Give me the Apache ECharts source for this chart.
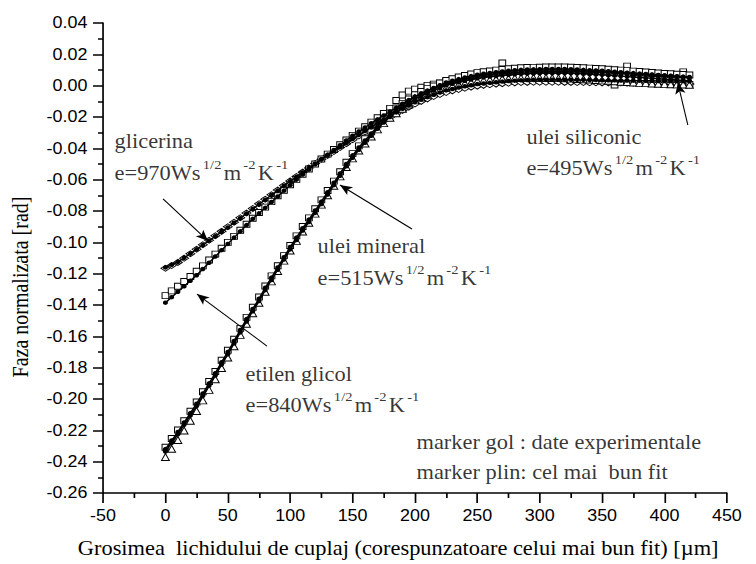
<!DOCTYPE html>
<html><head><meta charset="utf-8">
<script src="https://cdn.jsdelivr.net/npm/echarts@6/dist/echarts.min.js"></script>
<style>
html,body{margin:0;padding:0;background:#fff;overflow:hidden}
#wrap{width:756px;height:564px;overflow:hidden;background:#fff}
#c{width:675px;height:564px;transform:scaleX(1.12);transform-origin:0 0}
</style></head><body><div id="wrap"><div id="c"></div></div>
<script>
// grosimea lichidului [µm]
const thickness = [0,5,10,15,20,25,30,35,40,45,50,55,60,65,70,75,80,85,90,95,100,105,110,115,120,125,130,135,140,145,150,155,160,165,170,175,180,185,190,195,200,205,210,215,220,225,230,235,240,245,250,255,260,265,270,275,280,285,290,295,300,305,310,315,320,325,330,335,340,345,350,355,360,365,370,375,380,385,390,395,400,405,410,415,420];

// glicerina (e=970)
const glicerinaExp = [-0.1165,-0.1148,-0.1128,-0.1101,-0.1073,-0.1044,-0.1015,-0.0987,-0.0958,-0.093,-0.0901,-0.0872,-0.0843,-0.0813,-0.0784,-0.0754,-0.0725,-0.0696,-0.0666,-0.0637,-0.0608,-0.058,-0.0552,-0.0525,-0.0497,-0.047,-0.0445,-0.042,-0.0395,-0.037,-0.0345,-0.0321,-0.0296,-0.0272,-0.0248,-0.0224,-0.0202,-0.0179,-0.0158,-0.0137,-0.0117,-0.01,-0.0084,-0.0069,-0.0056,-0.0043,-0.0033,-0.0024,-0.0016,-0.0009,-0.0003,0.0002,0.0006,0.001,0.0013,0.0016,0.0018,0.002,0.0021,0.0022,0.0022,0.0022,0.0022,0.0022,0.0021,0.0021,0.002,0.002,0.0019,0.0019,0.0018,0.0018,0.0017,0.0017,0.0016,0.0016,0.0015,0.0015,0.0014,0.0014,0.0013,0.0013,0.0012,0.0012,0.0011];
const glicerinaFit = [-0.116,-0.1143,-0.1125,-0.1099,-0.1072,-0.1045,-0.1017,-0.0989,-0.0961,-0.0933,-0.0905,-0.0875,-0.0846,-0.0816,-0.0787,-0.0757,-0.0728,-0.0698,-0.0669,-0.0639,-0.061,-0.0582,-0.0554,-0.0526,-0.0498,-0.047,-0.0444,-0.0418,-0.0392,-0.0366,-0.034,-0.0315,-0.029,-0.0265,-0.024,-0.0215,-0.0192,-0.0169,-0.0147,-0.0126,-0.0105,-0.0089,-0.0073,-0.0058,-0.0044,-0.003,-0.0021,-0.0012,-0.0004,0.0003,0.001,0.0014,0.0018,0.0022,0.0026,0.003,0.0032,0.0034,0.0036,0.0037,0.0038,0.0038,0.0038,0.0038,0.0038,0.0038,0.0037,0.0037,0.0036,0.0036,0.0035,0.0034,0.0034,0.0033,0.0033,0.0032,0.0032,0.0031,0.0031,0.003,0.003,0.003,0.0029,0.0029,0.0028];

// etilen glicol (e=840)
const etilenExp = [-0.134,-0.131,-0.128,-0.125,-0.1218,-0.1185,-0.115,-0.1113,-0.1075,-0.1038,-0.1,-0.0962,-0.0923,-0.0885,-0.0846,-0.081,-0.0775,-0.074,-0.0703,-0.0668,-0.0632,-0.0598,-0.0565,-0.0532,-0.05,-0.0468,-0.0437,-0.0407,-0.0377,-0.0347,-0.0317,-0.029,-0.0262,-0.0233,-0.0205,-0.0178,-0.0145,-0.0095,-0.006,-0.0035,-0.0022,-0.001,0.0002,0.001,0.0018,0.0028,0.0036,0.0044,0.0052,0.006,0.0066,0.0071,0.0076,0.008,0.0145,0.0086,0.009,0.0093,0.0096,0.0098,0.0099,0.01,0.01,0.01,0.0099,0.0099,0.0098,0.0097,0.0096,0.0094,0.0093,0.0091,0.0004,0.0088,0.0125,0.0084,0.0082,0.008,0.0078,0.0076,0.0073,0.007,0.0067,0.0088,0.0008];
const etilenFit = [-0.1385,-0.135,-0.1315,-0.128,-0.1245,-0.121,-0.117,-0.113,-0.109,-0.105,-0.101,-0.097,-0.093,-0.089,-0.085,-0.0815,-0.078,-0.0743,-0.0707,-0.067,-0.0635,-0.06,-0.0567,-0.0535,-0.0502,-0.047,-0.044,-0.041,-0.038,-0.035,-0.032,-0.0293,-0.0267,-0.024,-0.0215,-0.019,-0.0165,-0.014,-0.0115,-0.0092,-0.007,-0.005,-0.0033,-0.0017,-0.0003,0.001,0.0021,0.0032,0.0042,0.0051,0.006,0.0065,0.007,0.0074,0.0077,0.008,0.0083,0.0086,0.0088,0.0089,0.009,0.009,0.009,0.009,0.009,0.009,0.0089,0.0088,0.0087,0.0086,0.0085,0.0083,0.0081,0.0079,0.0077,0.0075,0.0073,0.0071,0.0069,0.0067,0.0065,0.0061,0.0057,0.0054,0.005];

// ulei mineral (e=515)
const mineralExp = [-0.2308,-0.2252,-0.2198,-0.2139,-0.2078,-0.2019,-0.1954,-0.1888,-0.1824,-0.1753,-0.1689,-0.1619,-0.1549,-0.1479,-0.1414,-0.1349,-0.1279,-0.1214,-0.1149,-0.1085,-0.102,-0.0959,-0.0899,-0.0844,-0.0786,-0.0729,-0.0669,-0.0609,-0.0549,-0.0489,-0.0434,-0.0384,-0.0339,-0.0294,-0.0249,-0.0209,-0.0174,-0.0143,-0.0113,-0.0085,-0.0058,-0.0037,-0.0019,-0.0002,0.0016,0.0033,0.0044,0.0055,0.0065,0.0074,0.0083,0.0089,0.0094,0.0099,0.0103,0.0108,0.0111,0.0114,0.0116,0.0117,0.0118,0.0119,0.0119,0.0119,0.0119,0.0118,0.0116,0.0114,0.0112,0.011,0.0108,0.0105,0.0102,0.0099,0.0096,0.0093,0.009,0.0087,0.0084,0.0081,0.0078,0.0076,0.0073,0.0071,0.0068];
const mineralFit = [-0.232,-0.2265,-0.221,-0.215,-0.209,-0.203,-0.1965,-0.19,-0.1835,-0.1765,-0.17,-0.163,-0.156,-0.149,-0.1425,-0.136,-0.129,-0.1225,-0.116,-0.1095,-0.103,-0.097,-0.091,-0.0855,-0.0797,-0.074,-0.068,-0.062,-0.056,-0.05,-0.0445,-0.0395,-0.035,-0.0305,-0.026,-0.022,-0.0185,-0.0155,-0.0125,-0.0097,-0.007,-0.005,-0.0032,-0.0015,0.0003,0.002,0.0031,0.0042,0.0052,0.0061,0.007,0.0076,0.0081,0.0086,0.009,0.0095,0.0098,0.0101,0.0103,0.0104,0.0105,0.0106,0.0106,0.0106,0.0106,0.0105,0.0103,0.0101,0.0099,0.0097,0.0095,0.0092,0.0089,0.0086,0.0083,0.008,0.0077,0.0074,0.0071,0.0068,0.0065,0.0063,0.006,0.0058,0.0055];

// ulei siliconic (e=495)
const siliconicExp = [-0.237,-0.2318,-0.2262,-0.2201,-0.2139,-0.2077,-0.2009,-0.1942,-0.1874,-0.1802,-0.1735,-0.1663,-0.1591,-0.152,-0.1453,-0.1386,-0.1315,-0.1249,-0.1183,-0.1117,-0.1052,-0.0991,-0.0931,-0.0875,-0.0817,-0.0759,-0.0699,-0.0639,-0.0579,-0.0519,-0.0464,-0.0414,-0.0369,-0.0324,-0.0279,-0.0239,-0.0205,-0.0176,-0.0147,-0.012,-0.0094,-0.0076,-0.0059,-0.0043,-0.0027,-0.0012,-0.0002,0.0007,0.0015,0.0022,0.0029,0.0034,0.0038,0.0041,0.0044,0.0046,0.0048,0.0049,0.005,0.005,0.005,0.005,0.0049,0.0048,0.0047,0.0045,0.0043,0.0041,0.0039,0.0036,0.0034,0.0031,0.0028,0.0025,0.0023,0.002,0.0018,0.0016,0.0014,0.0012,0.001,0.0009,0.0008,0.0007,0.0006];
const siliconicFit = [-0.2335,-0.228,-0.2225,-0.2165,-0.2105,-0.2045,-0.198,-0.1915,-0.185,-0.178,-0.1715,-0.1645,-0.1575,-0.1505,-0.144,-0.1375,-0.1305,-0.124,-0.1175,-0.111,-0.1045,-0.0985,-0.0925,-0.087,-0.0812,-0.0755,-0.0695,-0.0635,-0.0575,-0.0515,-0.046,-0.041,-0.0365,-0.032,-0.0275,-0.0235,-0.02,-0.017,-0.014,-0.0112,-0.0085,-0.0066,-0.0048,-0.0031,-0.0014,0.0002,0.0012,0.0022,0.0031,0.0039,0.0047,0.0053,0.0058,0.0062,0.0066,0.007,0.0073,0.0075,0.0077,0.0078,0.0079,0.008,0.008,0.008,0.008,0.0079,0.0077,0.0075,0.0073,0.0071,0.0069,0.0066,0.0064,0.0061,0.0058,0.0055,0.0052,0.005,0.0047,0.0044,0.0041,0.0039,0.0036,0.0034,0.0031];

// axis settings
const xMin = -50, xMax = 450, xStep = 50;
const yMin = -0.26, yMax = 0.04, yStep = 0.02;

// annotation texts (anchored at data coordinates)
const notes = [
  {x: -41.2, y: -0.0353, text: 'glicerina'},
  {x: -41.2, y: -0.0557, text: 'e=970Ws{s|1/2}m{s|-2}K{s|-1}'},
  {x: 288.9, y: -0.0328, text: 'ulei siliconic'},
  {x: 288.9, y: -0.0526, text: 'e=495Ws{s|1/2}m{s|-2}K{s|-1}'},
  {x: 121.5, y: -0.1023, text: 'ulei mineral'},
  {x: 121.5, y: -0.1228, text: 'e=515Ws{s|1/2}m{s|-2}K{s|-1}'},
  {x: 63.8, y: -0.1840, text: 'etilen glicol'},
  {x: 63.8, y: -0.2038, text: 'e=840Ws{s|1/2}m{s|-2}K{s|-1}'},
  {x: 200.8, y: -0.2275, text: 'marker gol : date experimentale'},
  {x: 200.8, y: -0.2468, text: 'marker plin: cel mai  bun fit'}
];
const arrows = [
  [[-1.9, -0.0723], [34.1, -0.0991]],
  [[81.4, -0.1662], [25.3, -0.1330]],
  [[197.6, -0.0915], [139.9, -0.0634]],
  [[418.7, -0.0251], [410.7, 0.0017]]
];

const pts = ys => thickness.map((x, i) => [x, ys[i]]);
const serif = 'Liberation Serif';
const sans = 'Liberation Sans';

function expSeries(name, ys, symbol, size) {
  return {
    name, type: 'scatter', data: pts(ys), symbol, symbolSize: size,
    itemStyle: {color: '#ffffff', borderColor: '#000000', borderWidth: 0.9, opacity: 1},
    silent: true, z: 2
  };
}
function fitSeries(name, ys) {
  return {
    name, type: 'line', data: pts(ys), symbol: 'circle', symbolSize: 4.5, showSymbol: true,
    showAllSymbol: true, smooth: false,
    lineStyle: {color: '#000000', width: 1.4},
    itemStyle: {color: '#000000', borderWidth: 0, opacity: 1},
    silent: true, z: 3
  };
}

const chart = echarts.init(document.getElementById('c'), null, {renderer: 'svg'});
chart.setOption({
  animation: false,
  backgroundColor: '#ffffff',
  grid: {left: 92, right: 26, top: 23, bottom: 71, containLabel: false, outerBoundsMode: 'none'},
  xAxis: {
    type: 'value', min: xMin, max: xMax, interval: xStep,
    name: 'Grosimea  lichidului de cuplaj (corespunzatoare celui mai bun fit) [\u00b5m]',
    nameLocation: 'middle', nameGap: 45,
    nameTextStyle: {fontFamily: serif, fontSize: 20, color: '#000', padding: [0, 30, 0, 0]},
    axisLine: {show: true, onZero: false, lineStyle: {color: '#000', width: 1.5}},
    axisTick: {show: true, inside: false, length: 10, lineStyle: {color: '#000', width: 1.5}},
    minorTick: {show: true, splitNumber: 2, length: 5, lineStyle: {color: '#000', width: 1.5}},
    axisLabel: {fontFamily: sans, fontSize: 16, color: '#000', margin: 15},
    splitLine: {show: false}
  },
  yAxis: {
    type: 'value', min: yMin, max: yMax, interval: yStep,
    name: 'Faza normalizata [rad]', nameLocation: 'middle', nameGap: 64,
    nameTextStyle: {fontFamily: serif, fontSize: 20, color: '#000', padding: [0, 58, 0, 0]},
    axisLine: {show: true, onZero: false, lineStyle: {color: '#000', width: 1.5}},
    axisTick: {show: true, inside: false, length: 9, lineStyle: {color: '#000', width: 1.5}},
    minorTick: {show: true, splitNumber: 2, length: 4.5, lineStyle: {color: '#000', width: 1.5}},
    axisLabel: {
      fontFamily: sans, fontSize: 16, color: '#000', margin: 14,
      formatter: v => (Math.abs(v) < 1e-9 ? 0 : v).toFixed(2)
    },
    splitLine: {show: false}
  },
  series: [
    expSeries('glicerina exp', glicerinaExp, 'diamond', [8, 6]),
    expSeries('etilen glicol exp', etilenExp, 'rect', 6),
    expSeries('ulei mineral exp', mineralExp, 'rect', 6),
    expSeries('ulei siliconic exp', siliconicExp, 'triangle', 7),
    fitSeries('glicerina fit', glicerinaFit),
    fitSeries('etilen glicol fit', etilenFit),
    fitSeries('ulei mineral fit', mineralFit),
    fitSeries('ulei siliconic fit', siliconicFit),
    {
      name: 'arrows', type: 'scatter', data: [], silent: true,
      markLine: {
        silent: true, animation: false,
        symbol: ['none', 'arrow'], symbolSize: [7, 11],
        label: {show: false},
        lineStyle: {color: '#000', width: 1, type: 'solid'},
        emphasis: {disabled: true},
        data: arrows.map(a => [{coord: a[0]}, {coord: a[1]}])
      }
    },
    {
      name: 'notes', type: 'scatter', silent: true, symbolSize: 1,
      itemStyle: {color: 'rgba(0,0,0,0)'},
      data: notes.map(n => ({value: [n.x, n.y], label: {formatter: n.text}})),
      label: {
        show: true, position: 'right', distance: 0, color: '#000',
        fontFamily: serif, fontSize: 20, lineHeight: 30,
        rich: {s: {fontFamily: serif, fontSize: 13, lineHeight: 13, verticalAlign: 'top', padding: [0, 2, 0, 2], color: '#000'}}
      },
      emphasis: {disabled: true}, z: 5
    }
  ]
});
</script></body></html>
